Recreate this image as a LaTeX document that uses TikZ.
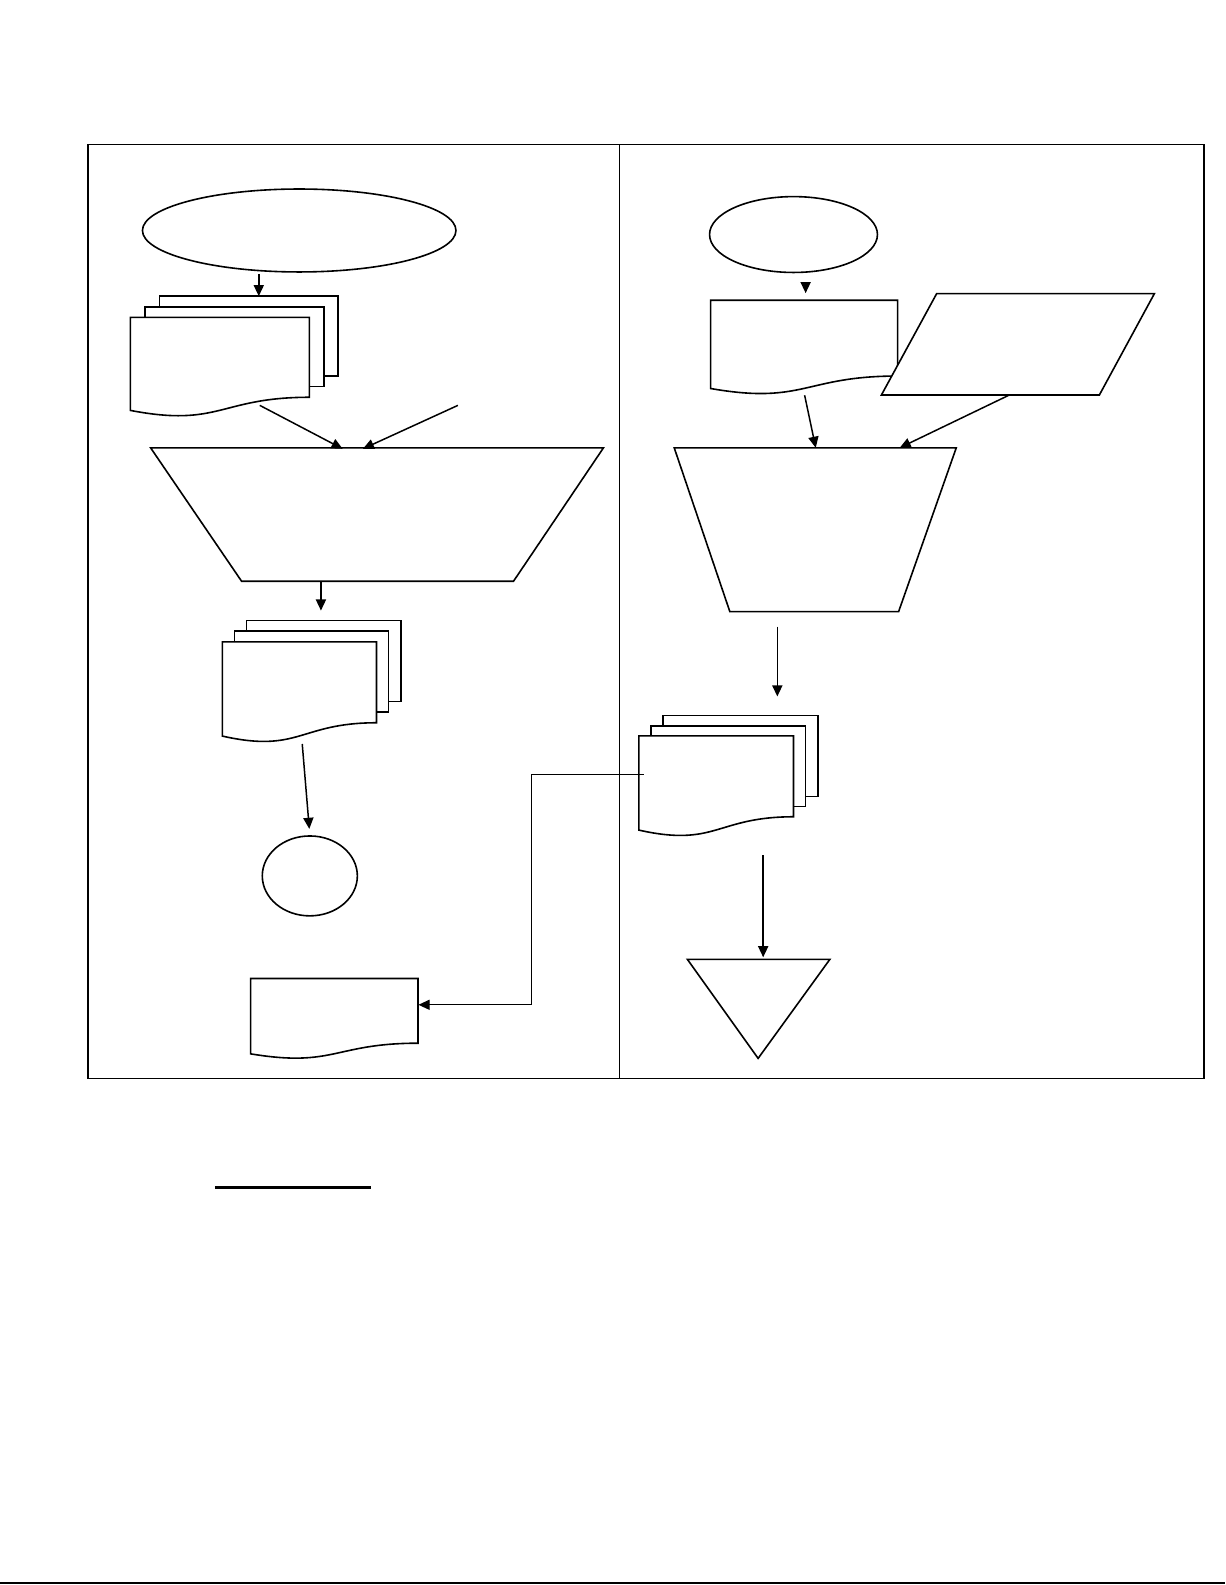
\documentclass[tikz,border=0pt]{standalone}
\usetikzlibrary{arrows.meta,shapes.geometric}
\tikzset{
  shapeline/.style={draw=black, line width=0.45pt, fill=white},
  conn/.style={draw=black, line width=0.42pt, -{Triangle[length=1.1mm,width=1.0mm]}},
  thinconn/.style={draw=black, line width=0.32pt, -{Triangle[length=1.1mm,width=1.0mm]}},
  oval/.style={ellipse, draw=black, line width=0.45pt, fill=white, inner sep=0pt},
}
% document symbol: x0, y0, width, height
\newcommand{\docshape}[4]{%
  \draw[shapeline] (#1,#2) -- ({#1+#3},#2) -- ({#1+#3},{#2+0.802*#4})
    .. controls ({#1+0.5*#3},{#2+0.802*#4}) and ({#1+0.5*#3},{#2+1.107*#4}) .. (#1,{#2+0.934*#4}) -- cycle;}
% multi-document symbol: x0, y0, width, height, dx, dy
\newcommand{\stackshape}[6]{%
  \draw[shapeline] ({#1+2*#5},{#2-2*#6}) rectangle ({#1+#3+2*#5},{#2+0.802*#4-2*#6});
  \draw[shapeline] ({#1+#5},{#2-#6}) rectangle ({#1+#3+#5},{#2+0.802*#4-#6});
  \docshape{#1}{#2}{#3}{#4}}
\begin{document}
\begin{tikzpicture}[x=0.01cm,y=-0.01cm]
\useasboundingbox (0,0) rectangle (1212,1568);
\fill[white] (0,0) rectangle (1212,1568);

% frame
\draw[line width=0.45pt] (87,143) rectangle (1191,1067);
\draw[line width=0.35pt] (613,143) -- (613,1067);

% ---------- left column ----------
\node[oval, minimum width=3.10cm, minimum height=0.82cm] (e1) at (296,228) {};
\stackshape{129}{314}{177}{98.5}{14.3}{10.5}
\draw[shapeline] (149,443) -- (597,443) -- (508,575) -- (239,575) -- cycle;
\stackshape{220}{635}{152.5}{99.75}{12}{10.5}
\node[oval, minimum width=0.94cm, minimum height=0.79cm] (c0) at (306.5,866.5) {};
\docshape{248}{968}{165.5}{79.8}

% ---------- right column ----------
\node[oval, minimum width=1.66cm, minimum height=0.75cm] (e2) at (785,232) {};
\docshape{703}{297}{185}{93.5}
\draw[shapeline] (926.6,290.5) -- (1142,290.5) -- (1087.6,390.7) -- (872,390.7) -- cycle;
\draw[shapeline] (667,443) -- (946,443) -- (889,605) -- (722,605) -- cycle;
\stackshape{632}{728}{153}{99.75}{12}{10}
\draw[shapeline] (680,949) -- (821,949) -- (750,1047) -- cycle;

% ---------- connector end points ----------
\coordinate (a1s) at (256,271);   \coordinate (a1e) at (256,293);
\coordinate (a2s) at (257,401);   \coordinate (a2e) at (339,444);
\coordinate (a3s) at (453,401);   \coordinate (a3e) at (359,444);
\coordinate (a4s) at (317.5,575); \coordinate (a4e) at (317.5,604);
\coordinate (a5s) at (299,736);   \coordinate (a5e) at (306,820);
\coordinate (b1s) at (797,279);   \coordinate (b1e) at (797,290);
\coordinate (b2s) at (796,391);   \coordinate (b2e) at (807,443);
\coordinate (b3s) at (998,391);   \coordinate (b3e) at (890,443);
\coordinate (b4s) at (769,620);   \coordinate (b4e) at (769,689);
\coordinate (b5s) at (755,846);   \coordinate (b5e) at (755,947);
\coordinate (k1) at (637,766);
\coordinate (k2) at (525.5,766);
\coordinate (k3) at (414,994);

% ---------- connectors ----------
\draw[conn] (a1s) -- (a1e);
\draw[conn] (a2s) -- (a2e);
\draw[conn] (a3s) -- (a3e);
\draw[conn] (a4s) -- (a4e);
\draw[conn] (a5s) -- (a5e);
\draw[conn] (b1s) -- (b1e);
\draw[conn] (b2s) -- (b2e);
\draw[conn] (b3s) -- (b3e);
\draw[conn] (b4s) -- (b4e);
\draw[conn] (b5s) -- (b5e);
\draw[thinconn] (k1) -- (k2) |- (k3);

% ---------- lines below ----------
\coordinate (u1) at (212.5,1174.5);
\coordinate (u2) at (367,1174.5);
\draw[line width=0.75pt] (u1) -- (u2);
\coordinate (f1) at (0,1566);
\coordinate (f2) at (1212,1566);
\draw[line width=0.6pt] (f1) -- (f2);
\end{tikzpicture}
\end{document}
